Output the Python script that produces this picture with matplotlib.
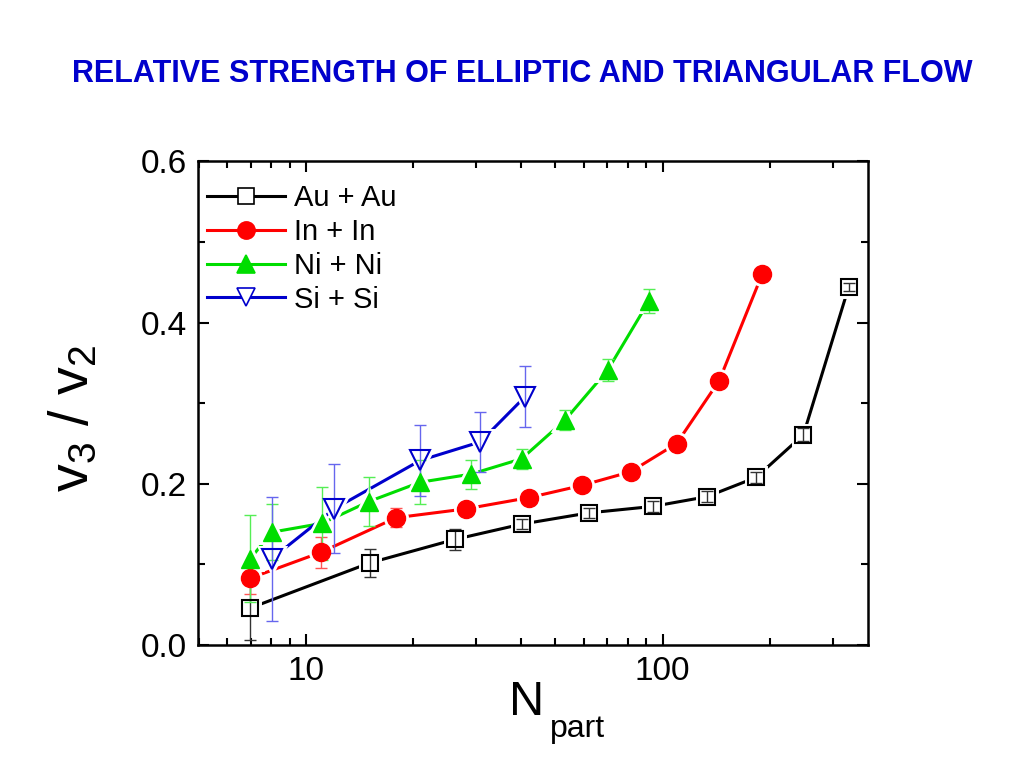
import matplotlib
matplotlib.use('Agg')
import matplotlib.pyplot as plt
from matplotlib.ticker import LogLocator, MultipleLocator, FixedLocator, NullFormatter

plt.rcParams['font.family'] = ['Liberation Sans', 'DejaVu Sans']
plt.rcParams['mathtext.fontset'] = 'custom'
plt.rcParams['mathtext.rm'] = 'Liberation Sans'
plt.rcParams['mathtext.it'] = 'Liberation Sans'

# data
au_x = [6.98, 15.1, 26.1, 40.2, 62.1, 93.8, 132.8, 182.8, 248, 332]
au_y = [0.046, 0.102, 0.131, 0.150, 0.164, 0.172, 0.184, 0.208, 0.261, 0.444]
au_err = [0.040, 0.017, 0.013, 0.006, 0.006, 0.007, 0.007, 0.007, 0.008, 0.005]

in_x = [6.98, 11.0, 17.9, 28.1, 42.3, 59.3, 81.3, 109.4, 144, 190]
in_y = [0.083, 0.115, 0.158, 0.169, 0.183, 0.198, 0.215, 0.250, 0.328, 0.460]
in_err = [0.020, 0.019, 0.012, 0.006, 0.006, 0.006, 0.006, 0.006, 0.006, 0.006]

ni_x = [6.98, 8.01, 11.1, 15.0, 20.9, 29.0, 40.2, 53.2, 70.1, 91.6]
ni_y = [0.107, 0.140, 0.151, 0.178, 0.202, 0.212, 0.231, 0.279, 0.341, 0.427]
ni_err = [0.054, 0.035, 0.045, 0.030, 0.027, 0.018, 0.012, 0.012, 0.014, 0.015]

si_x = [8.01, 12.0, 20.9, 30.8, 41.1]
si_y = [0.107, 0.169, 0.229, 0.252, 0.308]
si_err = [0.077, 0.055, 0.044, 0.037, 0.038]

series = [
    ('Au + Au', au_x, au_y, au_err, 'black', '#333333', 's', 11.5, 'none'),
    ('In + In', in_x, in_y, in_err, '#ff0000', '#ff5555', 'o', 13, '#ff0000'),
    ('Ni + Ni', ni_x, ni_y, ni_err, '#00dd00', '#55ee55', '^', 13, '#00dd00'),
    ('Si + Si', si_x, si_y, si_err, '#0000cc', '#6666ee', 'v', 14, 'none'),
]

fig = plt.figure(figsize=(10.24, 7.68), dpi=100)
ax = fig.add_axes([0.193, 0.160, 0.655, 0.630])

for label, x, y, err, col, ecol, mk, ms, fc in series:
    ax.plot(x, y, '-', color=col, lw=2.2, zorder=2)
    # white halo makes the small gap between line and symbol
    ax.plot(x, y, linestyle='none', marker=mk, ms=ms, mfc='white', mec='white',
            mew=5, zorder=3)
    ax.errorbar(x, y, yerr=err, fmt='none', ecolor=ecol, elinewidth=1,
                capsize=4.5, capthick=1, zorder=4)
    ax.plot(x, y, linestyle='none', marker=mk, ms=ms, mfc=fc, mec=col,
            mew=1.5 if fc == 'none' else 1, zorder=5)
    ax.plot([], [], '-', color=col, lw=2.2, marker=mk, ms=ms * 0.95,
            mfc='white' if fc == 'none' else fc, mec=col, mew=1.2, label=label)

ax.set_xscale('log')
ax.set_xlim(4.97, 377)
ax.set_ylim(0, 0.6)
ax.xaxis.set_major_locator(FixedLocator([10, 100]))
ax.xaxis.set_minor_locator(LogLocator(base=10, subs=range(2, 10), numticks=20))
ax.xaxis.set_minor_formatter(NullFormatter())
ax.set_xticklabels(['10', '100'])
ax.yaxis.set_major_locator(MultipleLocator(0.2))
ax.yaxis.set_minor_locator(MultipleLocator(0.1))
ax.yaxis.set_major_formatter(matplotlib.ticker.FormatStrFormatter('%.1f'))

ax.tick_params(which='both', direction='in', top=True, right=True, width=1.5,
               labelsize=24, pad=8)
ax.tick_params(which='major', length=8)
ax.tick_params(which='minor', length=5)
for s in ax.spines.values():
    s.set_linewidth(1.8)

leg = ax.legend(loc='upper left', frameon=False, fontsize=21, handlelength=2.7,
                handletextpad=0.3, labelspacing=0.2, borderaxespad=0.3,
                bbox_to_anchor=(-0.017, 0.995))

fig.text(0.073, 0.455, r'$\mathregular{v_3\ /\ v_2}$', rotation=90, fontsize=40,
         ha='center', va='center')
fig.text(0.514, 0.085, 'N', fontsize=35, ha='center', va='center')
fig.text(0.537, 0.040, 'part', fontsize=23, ha='left', va='baseline')

fig.text(0.51, 0.904, 'RELATIVE STRENGTH OF ELLIPTIC AND TRIANGULAR FLOW',
         family=['Liberation Sans Narrow', 'Liberation Sans'], fontweight='bold',
         fontsize=22, color='#0000cc', ha='center', va='center')

fig.savefig('out.png', dpi=100)
